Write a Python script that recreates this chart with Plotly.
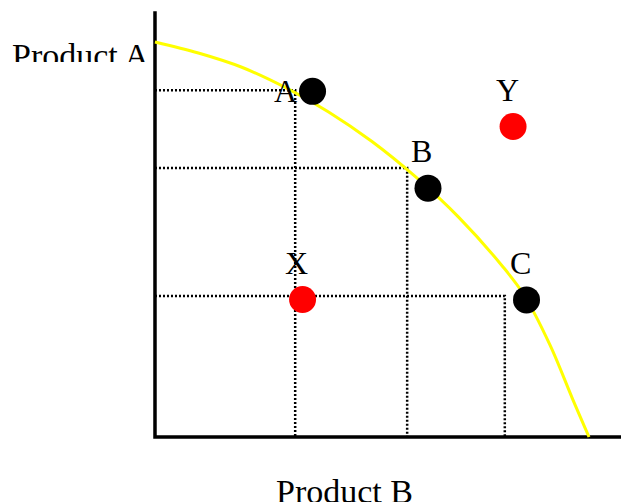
import plotly.graph_objects as go

# production possibility frontier (Product B on x, Product A on y)
curve_b = [0, 10, 20, 30, 40, 50, 60, 70, 80, 85, 91, 96.3, 100]
curve_a = [100, 97.2, 93.6, 88.5, 82.3, 74.8, 65.9, 55.6, 43.3, 36.0, 23.3, 9.4, 0]

point_names = ["A", "B", "C", "X", "Y"]
point_b = [36.3, 62.9, 85.6, 34.0, 82.5]
point_a = [87.5, 63.0, 34.7, 34.8, 78.6]

# dotted guide lines for the points on the frontier
guide_names = ["A", "B", "C"]
guide_b = [32.3, 58.1, 80.6]
guide_a = [87.8, 68.1, 35.7]

on_frontier = {"A", "B", "C"}
serif = "Liberation Serif, Times New Roman, serif"

fig = go.Figure()

# axes
fig.add_trace(go.Scatter(x=[0, 0, 107.4], y=[107.8, 0, 0], mode="lines",
                         line=dict(color="black", width=3.5), hoverinfo="skip"))

for name, gb, ga in zip(guide_names, guide_b, guide_a):
    fig.add_trace(go.Scatter(x=[0, gb, gb], y=[ga, ga, 0], mode="lines",
                             line=dict(color="black", width=2.5, dash="2px,2px"),
                             hoverinfo="skip"))

fig.add_trace(go.Scatter(x=curve_b, y=curve_a, mode="lines",
                         line=dict(color="#ffff00", width=3, shape="spline", smoothing=1),
                         hoverinfo="skip"))

colors = ["black" if n in on_frontier else "#ff0000" for n in point_names]
fig.add_trace(go.Scatter(x=point_b, y=point_a, mode="markers",
                         marker=dict(size=27, color=colors, line=dict(width=0)),
                         hoverinfo="skip"))

for name, b, a in zip(point_names, point_b, point_a):
    if name == "A":
        xs, ys = -27, 0
    else:
        xs, ys = -6, 37
    fig.add_annotation(x=b, y=a, text=name, showarrow=False, xshift=xs, yshift=ys,
                       font=dict(family=serif, size=32, color="black"))

# axis titles, clipped at the bottom like in the original picture
fig.add_annotation(x=80 / 621, y=1 - 35 / 502, xref="paper", yref="paper",
                   text="Product A", showarrow=False, xanchor="center", yanchor="top",
                   height=25, valign="top",
                   font=dict(family=serif, size=34, color="black"))
fig.add_annotation(x=344 / 621, y=1 - 471 / 502, xref="paper", yref="paper",
                   text="Product B", showarrow=False, xanchor="center", yanchor="top",
                   font=dict(family=serif, size=34, color="black"))

fig.update_layout(
    width=621, height=502,
    margin=dict(l=0, r=0, t=0, b=0),
    showlegend=False,
    plot_bgcolor="white", paper_bgcolor="white",
    xaxis=dict(range=[-35.71, 107.37], visible=False, fixedrange=True),
    yaxis=dict(range=[-16.46, 110.63], visible=False, fixedrange=True),
)

fig.write_html("out.html", config={"displayModeBar": False},
               post_script="document.body.style.margin = '0';")
